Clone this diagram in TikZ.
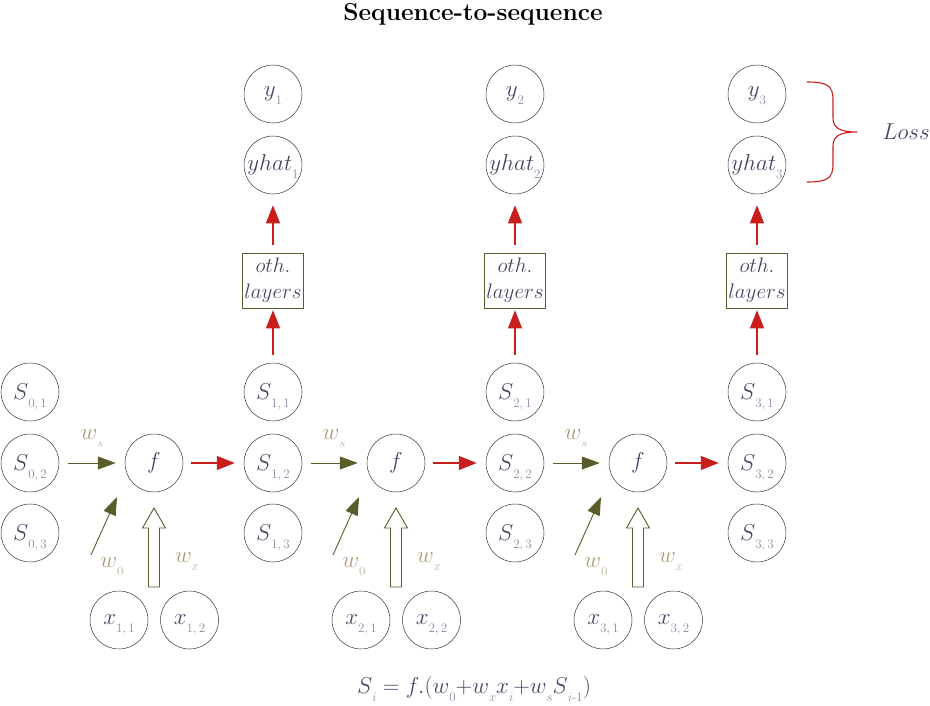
\RequirePackage{fix-cm}
\documentclass[tikz,border=0pt]{standalone}
\usepackage{xcolor}
\usepackage{tikz}
\usetikzlibrary{arrows.meta, positioning, calc}

\definecolor{textc}{RGB}{70,70,100}
\definecolor{subc}{RGB}{140,140,165}
\definecolor{wc}{RGB}{170,155,120}
\definecolor{wsubc}{RGB}{190,180,160}
\definecolor{olivec}{RGB}{90,92,42}
\definecolor{redc}{RGB}{200,30,30}

% name with a low, small subscript
\newcommand{\lsub}[2]{$#1$\raisebox{-8pt}[0pt][0pt]{\color{subc}\fontsize{13}{13}\selectfont$#2$}}
\newcommand{\wlab}[1]{{\color{wc}$w$}\raisebox{-8pt}[0pt][0pt]{\color{wsubc}\fontsize{13}{13}\selectfont$#1$}}

\begin{document}
\begin{tikzpicture}[x=1pt, y=-1pt, font=\fontsize{23}{27}\selectfont,
  cell/.style={circle, draw=black!80, line width=0.5pt, minimum size=58pt, inner sep=0pt, text=textc},
  layerbox/.style={draw=olivec, line width=0.6pt, minimum width=61pt, minimum height=55pt, inner sep=1pt, align=center, text=textc, font=\fontsize{21}{26}\selectfont},
  redarrow/.style={draw=redc, line width=1.2pt, -{Triangle[length=18pt, width=14pt]}},
  greenarrow/.style={draw=olivec, line width=0.9pt, -{Triangle[length=18pt, width=13pt]}},
  wlabel/.style={inner sep=0pt}]
  \useasboundingbox (0,0) rectangle (930,705);

  % Title
  \node[font=\fontsize{24.5}{28}\selectfont\bfseries] (title) at (473,14) {Sequence-to-sequence};

  % Initial state
  \node[cell] (S01) at (30,392) {\lsub{S}{0,1}};
  \node[cell] (S02) at (30,463) {\lsub{S}{0,2}};
  \node[cell] (S03) at (30,533) {\lsub{S}{0,3}};

  % Time steps
  \foreach \i in {1,2,3} {
    \pgfmathtruncatemacro{\j}{\i-1}
    \pgfmathsetmacro{\xs}{273+242*(\i-1)}
    \pgfmathsetmacro{\xf}{154+242*(\i-1)}

    % Cell f and inputs
    \node[cell] (f\i) at (\xf,463) {$f$};
    \node[cell] (x\i1) at (\xf-35,620) {\lsub{x}{\i,1}};
    \node[cell] (x\i2) at (\xf+35.5,620) {\lsub{x}{\i,2}};

    % State, layers, outputs
    \node[cell] (S\i1) at (\xs,392) {\lsub{S}{\i,1}};
    \node[cell] (S\i2) at (\xs,463) {\lsub{S}{\i,2}};
    \node[cell] (S\i3) at (\xs,533) {\lsub{S}{\i,3}};
    \node[layerbox] (L\i) at (\xs,280.5) {$oth.$\\$layers$};
    \node[cell] (yh\i) at (\xs,165) {\lsub{yhat}{\i}};
    \node[cell] (y\i) at (\xs,94) {\lsub{y}{\i}};

    % Connections
    \draw[greenarrow, shorten <=9pt, shorten >=9pt] (S\j2) -- (f\i);
    \draw[redarrow, shorten <=8pt, shorten >=9pt] (f\i) -- (S\i2);
    \draw[redarrow, shorten <=8pt, shorten >=2pt] (S\i1) -- (L\i);
    \draw[redarrow, shorten <=8pt, shorten >=11pt] (L\i) -- (yh\i);

    % Bias
    \coordinate (w0a\i) at ($(f\i)+(-63,92)$);
    \coordinate (w0b\i) at ($(f\i)+(-37,34)$);
    \draw[greenarrow] (w0a\i) -- (w0b\i);

    % Input weights (hollow arrow)
    \draw[olivec, line width=0.9pt, fill=white] ($(f\i)+(-5.5,124)$) -- ++(0,-59) -- ++(-6,0)
      -- ++(11.5,-20) -- ++(11.5,20) -- ++(-6,0) -- ++(0,59) -- cycle;

    % Weight labels
    \node[wlabel] (ws\i) at ($(f\i)+(-62,-28)$) {\wlab{s}};
    \node[wlabel] (wz\i) at ($(f\i)+(-42,100)$) {\wlab{0}};
    \node[wlabel] (wx\i) at ($(f\i)+(33,95)$) {\wlab{x}};
  }

  % Loss brace
  \draw[redc, line width=1.1pt] (807,82) .. controls (828,82) and (833,86) .. (833,100) -- (833,118)
    .. controls (833,128) and (840,132) .. (857,132)
    .. controls (840,132) and (833,136) .. (833,146) -- (833,164)
    .. controls (833,178) and (828,182) .. (807,182);
  \node[text=textc] (loss) at (906,132) {$Loss$};

  % Update rule
  \node[text=textc] (eq) at (474,688) {\lsub{S}{i}$\;=f.($\lsub{w}{0}$+$\lsub{w}{x}\lsub{x}{i}$+$\lsub{w}{s}\lsub{S}{i\mbox{-}1}$)$};
\end{tikzpicture}
\end{document}
